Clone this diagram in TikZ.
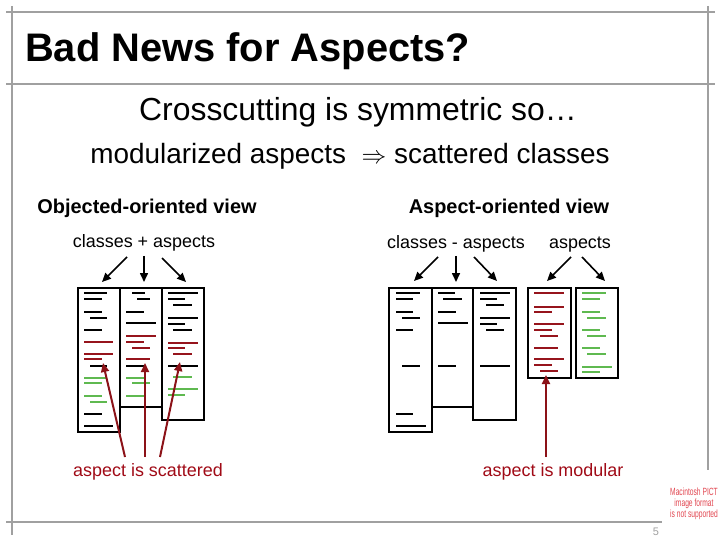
\documentclass[tikz,border=0pt]{standalone}
\usepackage{fontspec}
\setmainfont{Liberation Sans}
\usetikzlibrary{arrows.meta}

\definecolor{framegray}{RGB}{160,160,160}
\definecolor{codered}{RGB}{150,20,28}
\definecolor{codegreen}{RGB}{95,185,80}
\definecolor{arrred}{RGB}{140,18,24}
\definecolor{labelred}{RGB}{160,10,22}
\definecolor{pictred}{RGB}{225,70,80}

\begin{document}
\begin{tikzpicture}[x=1bp, y=-1bp,
    frame/.style={framegray, line width=2bp},
    col/.style={black, line width=2bp},
    code/.style={line width=2.2bp},
    arr/.style={line width=1.6bp, -{Triangle[length=9bp,width=8bp]}},
    redarr/.style={arr, line width=2bp, draw=arrred, fill=arrred},
    txt/.style={inner sep=0pt, anchor=base}]
  \useasboundingbox (0,0) rectangle (720,540);

  % slide frame
  \draw[frame] (6,12) -- (715,12);
  \draw[frame] (6,84) -- (715,84);
  \draw[frame] (12,6) -- (12,535);
  \draw[frame] (708,6) -- (708,470);
  \draw[frame] (6,522) -- (662,522);

  % headings
  \node[txt, anchor=base west, font=\fontsize{40}{48}\selectfont\bfseries] (title) at (25,62) {Bad News for Aspects?};
  \node[txt, font=\fontsize{32}{38}\selectfont] (claim) at (358,121) {Crosscutting is symmetric so…};
  \node[txt, font=\fontsize{28}{34}\selectfont] (conseq) at (350,164) {modularized aspects \ $\Rightarrow$ scattered classes};

  \node[txt, font=\fontsize{20}{24}\selectfont\bfseries] (ooview) at (147,214) {Objected-oriented view};
  \node[txt, font=\fontsize{20}{24}\selectfont\bfseries] (aoview) at (509,214) {Aspect-oriented view};

  \node[txt, font=\fontsize{18}{22}\selectfont] (oolabel) at (144,248) {classes + aspects};
  \node[txt, font=\fontsize{18}{22}\selectfont] (aolabel) at (456,249) {classes - aspects};
  \node[txt, font=\fontsize{18}{22}\selectfont] (asplabel) at (580,249) {aspects};

  \node[txt, labelred, font=\fontsize{18}{22}\selectfont] (scattered) at (148,476) {aspect is scattered};
  \node[txt, labelred, font=\fontsize{18}{22}\selectfont] (modular) at (553,476) {aspect is modular};

  % object-oriented columns
  \draw[col] (78,288) rectangle (120,432);
  \draw[col] (120,288) rectangle (162,407);
  \draw[col] (162,288) rectangle (204,420);
  \foreach \y/\a/\b/\c in {293/84/107/black, 299/84/102/black, 312/84/102/black, 318/90/107/black,
      330/84/102/black, 342/84/113/codered, 354/84/113/codered, 359/84/102/codered, 366/90/107/black,
      378/84/107/codegreen, 383/84/102/codegreen, 396/84/102/codegreen, 402/90/107/codegreen,
      414/84/102/black, 426/84/113/black,
      293/132/145/black, 299/137/150/black, 312/126/144/black, 323/126/156/black,
      336/126/156/codered, 342/126/144/codered, 348/132/150/codered, 359/126/150/codered,
      366/126/144/black, 378/126/144/codegreen, 383/132/150/codegreen, 396/126/144/codegreen,
      293/168/198/black, 299/168/185/black, 305/173/192/black, 318/168/198/black,
      324/168/185/black, 330/173/192/black, 343/168/198/codered, 348/168/185/codered,
      354/173/192/codered, 366/168/198/black, 377/173/192/codegreen, 389/168/198/codegreen,
      395/168/185/codegreen}
    \draw[code, draw=\c] (\a,\y) -- (\b,\y);

  % aspect-oriented columns
  \draw[col] (389,288) rectangle (432,432);
  \draw[col] (432,288) rectangle (473,407);
  \draw[col] (473,288) rectangle (516,420);
  \draw[col] (528,288) rectangle (571,378);
  \draw[col] (576,288) rectangle (618,378);
  \foreach \y/\a/\b/\c in {293/396/420/black, 299/396/413/black, 312/396/413/black, 318/402/420/black,
      330/396/413/black, 366/402/420/black, 414/396/413/black, 426/396/426/black,
      293/438/455/black, 299/443/462/black, 312/438/456/black, 323/438/468/black, 366/438/456/black,
      293/480/510/black, 299/480/497/black, 305/486/504/black, 318/480/510/black,
      324/480/497/black, 330/486/504/black, 366/480/510/black,
      293/534/564/codered, 307/534/564/codered, 312/534/552/codered, 324/534/564/codered,
      330/534/552/codered, 336/540/558/codered, 348/534/558/codered, 359/534/564/codered,
      365/534/552/codered, 371/540/558/codered,
      293/582/606/codegreen, 299/582/600/codegreen, 312/582/600/codegreen, 318/587/606/codegreen,
      330/582/600/codegreen, 336/587/606/codegreen, 348/582/600/codegreen, 354/587/606/codegreen,
      367/582/612/codegreen, 372/582/600/codegreen}
    \draw[code, draw=\c] (\a,\y) -- (\b,\y);

  % arrow ends
  \coordinate (oo-s1) at (127,257); \coordinate (oo-t1) at (102,282);
  \coordinate (oo-s2) at (144,256); \coordinate (oo-t2) at (144,282);
  \coordinate (oo-s3) at (162,258); \coordinate (oo-t3) at (186,282);
  \coordinate (ao-s1) at (438,257); \coordinate (ao-t1) at (414,281);
  \coordinate (ao-s2) at (456,256); \coordinate (ao-t2) at (456,282);
  \coordinate (ao-s3) at (474,257); \coordinate (ao-t3) at (497,281);
  \coordinate (asp-s1) at (571,257); \coordinate (asp-t1) at (547,281);
  \coordinate (asp-s2) at (582,257); \coordinate (asp-t2) at (605,281);
  \coordinate (sc-s1) at (125,457); \coordinate (sc-t1) at (103,363);
  \coordinate (sc-s2) at (145,457); \coordinate (sc-t2) at (145,363);
  \coordinate (sc-s3) at (160,457); \coordinate (sc-t3) at (180,362);
  \coordinate (mod-s) at (546,457); \coordinate (mod-t) at (546,375);

  % arrows
  \draw[arr] (oo-s1) -- (oo-t1);
  \draw[arr] (oo-s2) -- (oo-t2);
  \draw[arr] (oo-s3) -- (oo-t3);
  \draw[arr] (ao-s1) -- (ao-t1);
  \draw[arr] (ao-s2) -- (ao-t2);
  \draw[arr] (ao-s3) -- (ao-t3);
  \draw[arr] (asp-s1) -- (asp-t1);
  \draw[arr] (asp-s2) -- (asp-t2);
  \draw[redarr] (sc-s1) -- (sc-t1);
  \draw[redarr] (sc-s2) -- (sc-t2);
  \draw[redarr] (sc-s3) -- (sc-t3);
  \draw[redarr] (mod-s) -- (mod-t);

  % footer
  \node[txt, framegray, font=\fontsize{11}{13}\selectfont] (pagenum) at (656,535) {5};
  \node[pictred, inner sep=0pt, xscale=0.64, align=center, font=\fontsize{10.5}{11}\selectfont] (pict) at (694,504)
    {Macintosh PICT\\image format\\is not supported};
\end{tikzpicture}
\end{document}
